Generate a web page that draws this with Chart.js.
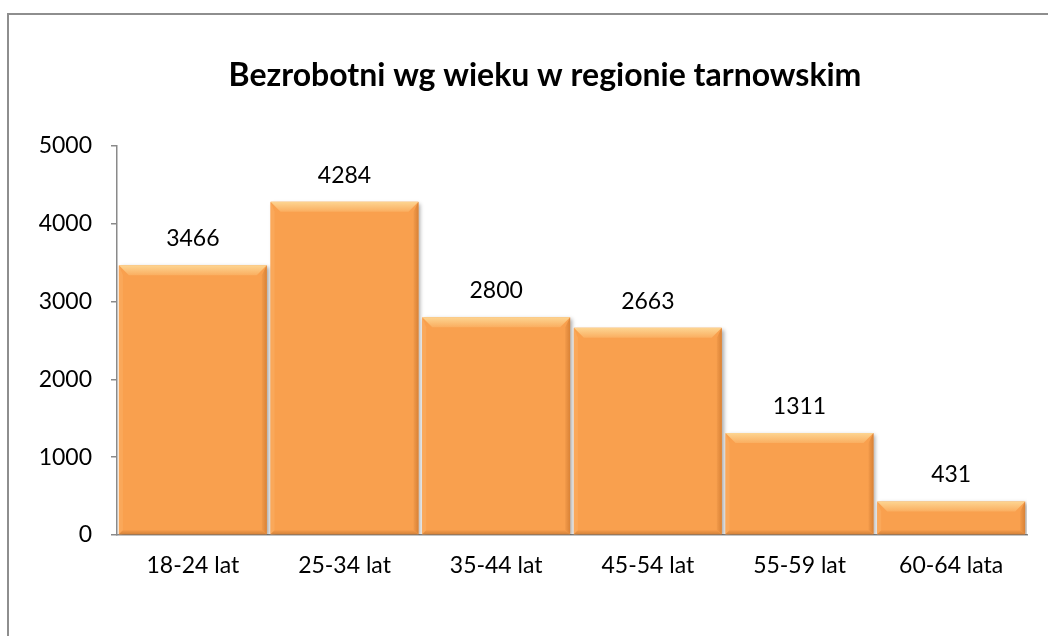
<!DOCTYPE html>
<html>
<head>
<meta charset="utf-8">
<script src="https://cdn.jsdelivr.net/npm/chart.js@4.4.1/dist/chart.umd.min.js"></script>
<style>
    html, body { margin: 0; padding: 0; overflow: hidden; background: #fff; width: 1048px; height: 636px; }
    #frame { position: absolute; left: 7px; top: 13px; width: 1100px; height: 700px; border: 2px solid #8e8e8e; }
    #wrap { position: absolute; left: 0; top: 0; width: 1090px; height: 636px; }
</style>
</head>
<body>
<div id="frame"></div>
<div id="wrap"><canvas id="chart" width="1090" height="636"></canvas></div>
<script>
// Data
const chartTitle = 'Bezrobotni wg wieku w regionie tarnowskim';
const categories = ['18-24 lat', '25-34 lat', '35-44 lat', '45-54 lat', '55-59 lat', '60-64 lata'];
const unemployed = [3466, 4284, 2800, 2663, 1311, 431];
const yTicks = [0, 1000, 2000, 3000, 4000, 5000];

const barColor = '#F9A04E';
const axisColor = '#8a8a8a';
const fontFamily = 'Lato, "Open Sans", sans-serif';

// Title, centred on the whole (wider) chart frame
const titlePlugin = {
    id: 'frameTitle',
    afterDraw(chart) {
        const c = chart.ctx;
        c.save();
        c.fillStyle = '#000';
        c.font = 'bold 32px ' + fontFamily;
        c.textAlign = 'center';
        c.textBaseline = 'alphabetic';
        c.fillText(chartTitle, 545, 86);
        c.restore();
    }
};

// Soft shadow under the bars
const shadowPlugin = {
    id: 'barShadow',
    beforeDatasetsDraw(chart) {
        const c = chart.ctx;
        c.save();
        c.shadowColor = 'rgba(0,0,0,0.35)';
        c.shadowBlur = 4;
        c.shadowOffsetX = 2;
        c.shadowOffsetY = 2;
    },
    afterDatasetsDraw(chart) {
        chart.ctx.restore();
    }
};

// Bevel look on each bar plus the value above it
const bevelPlugin = {
    id: 'bevel',
    afterDatasetsDraw(chart) {
        const c = chart.ctx;
        const meta = chart.getDatasetMeta(0);
        meta.data.forEach((bar, i) => {
            const p = bar.getProps(['x', 'y', 'base', 'width'], true);
            const l = p.x - p.width / 2, r = p.x + p.width / 2, t = p.y, b = p.base;
            const bv = Math.min(10, (b - t) / 2);
            c.save();
            // top
            let g = c.createLinearGradient(0, t, 0, t + bv);
            g.addColorStop(0, '#FDD592');
            g.addColorStop(1, '#FAAE60');
            c.fillStyle = g;
            c.beginPath();
            c.moveTo(l, t); c.lineTo(r, t); c.lineTo(r - bv, t + bv); c.lineTo(l + bv, t + bv); c.closePath();
            c.fill();
            // right
            g = c.createLinearGradient(r - 5, 0, r, 0);
            g.addColorStop(0, '#F29A4A');
            g.addColorStop(1, '#D98236');
            c.fillStyle = g;
            c.beginPath();
            c.moveTo(r, t); c.lineTo(r, b); c.lineTo(r - 5, b - 4); c.lineTo(r - 5, t + bv); c.closePath();
            c.fill();
            // left
            c.fillStyle = '#FAA85A';
            c.beginPath();
            c.moveTo(l, t); c.lineTo(l + 4, t + bv); c.lineTo(l + 4, b - 4); c.lineTo(l, b); c.closePath();
            c.fill();
            // bottom
            g = c.createLinearGradient(0, b - 4, 0, b);
            g.addColorStop(0, '#F39A4A');
            g.addColorStop(1, '#D5833A');
            c.fillStyle = g;
            c.beginPath();
            c.moveTo(l, b); c.lineTo(r, b); c.lineTo(r - 5, b - 4); c.lineTo(l + 4, b - 4); c.closePath();
            c.fill();
            // value label
            c.fillStyle = '#000';
            c.font = '23px ' + fontFamily;
            c.textAlign = 'center';
            c.textBaseline = 'alphabetic';
            c.fillText(String(unemployed[i]), p.x, t - 19);
            c.restore();
        });
    }
};

const ctx = document.getElementById('chart').getContext('2d');
new Chart(ctx, {
    type: 'bar',
    data: {
        labels: categories,
        datasets: [{
            data: unemployed,
            backgroundColor: barColor,
            borderWidth: 0,
            barPercentage: 0.975,
            categoryPercentage: 1
        }]
    },
    options: {
        responsive: false,
        animation: false,
        layout: { padding: { left: 0, right: 63, top: 146, bottom: 0 } },
        plugins: {
            legend: { display: false },
            tooltip: { enabled: false },
            title: { display: false }
        },
        scales: {
            x: {
                grid: { display: false, drawTicks: false },
                border: { display: true, color: axisColor, width: 1.5 },
                ticks: { color: '#000', font: { family: fontFamily, size: 23 }, padding: 17 },
                afterFit(scale) { scale.height = 101; }
            },
            y: {
                min: 0,
                max: 5000,
                afterBuildTicks(scale) { scale.ticks = yTicks.map(v => ({ value: v })); },
                grid: { drawOnChartArea: false, drawTicks: true, tickLength: 6, color: axisColor, lineWidth: 1.5 },
                border: { display: true, color: axisColor, width: 1.5 },
                ticks: { color: '#000', font: { family: fontFamily, size: 23 }, padding: 19, callback: v => String(v) },
                afterFit(scale) { scale.width = 117; }
            }
        }
    },
    plugins: [titlePlugin, shadowPlugin, bevelPlugin]
});
</script>
</body>
</html>
